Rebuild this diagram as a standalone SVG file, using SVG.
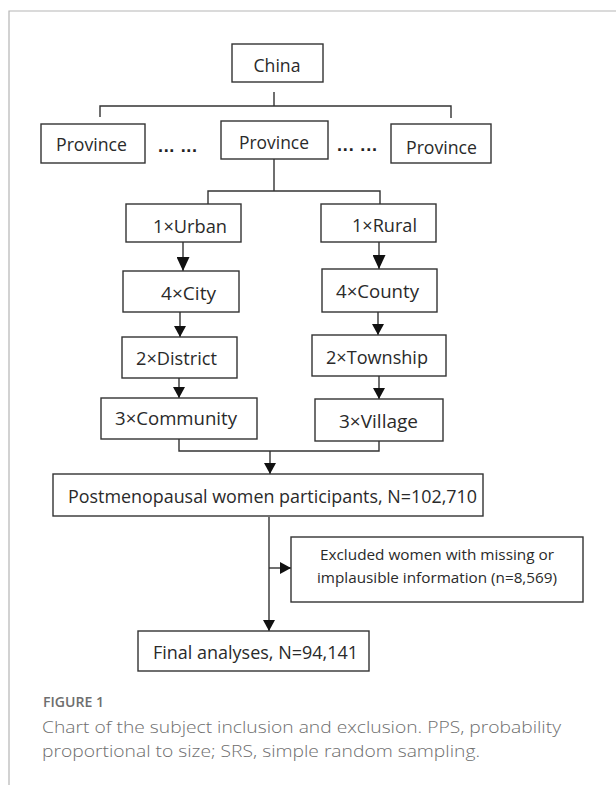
<svg xmlns="http://www.w3.org/2000/svg" width="616" height="787" viewBox="0 0 616 787">
  <style>
    .box { fill: #ffffff; stroke: #333333; stroke-width: 1.4; }
    .t { font-family: "Open Sans", "Noto Sans", sans-serif; font-size: 17.5px; fill: #2a2a2a; text-anchor: middle; }
    .ts { font-size: 14.5px; }
    .tl { font-size: 19px; }
    .dots { font-family: "Liberation Sans", sans-serif; font-size: 18px; font-weight: bold; fill: #222222; text-anchor: middle; }
    .ln { fill: none; stroke: #333333; stroke-width: 1.4; }
    .frame { fill: none; stroke: #b5b5b5; stroke-width: 1.2; }
    .cap { font-family: "Open Sans", "Noto Sans", sans-serif; fill: #6e6e6e; }
  </style>
  <defs>
    <marker id="arr" viewBox="0 0 11 12" refX="11" refY="6" markerWidth="11" markerHeight="12" markerUnits="userSpaceOnUse" orient="auto">
      <path d="M0,0 L11,6 L0,12 z" fill="#111111"/>
    </marker>
    <marker id="arrL" viewBox="0 0 14 13" refX="14" refY="6.5" markerWidth="14" markerHeight="13" markerUnits="userSpaceOnUse" orient="auto">
      <path d="M0,0 L14,6.5 L0,13 z" fill="#111111"/>
    </marker>
  </defs>
  <rect width="616" height="787" fill="#ffffff"/>
  <path class="frame" d="M616 11 H9 V785"/>

  <g id="connectors">
    <path class="ln" d="M274 92 V106 M100 117 V106 H451 V118"/>
    <path class="ln" d="M274 159 V191 M208 204 V191 H380 V204"/>
    <path class="ln" d="M183 242 V271" marker-end="url(#arrL)"/>
    <path class="ln" d="M180 312 V337" marker-end="url(#arr)"/>
    <path class="ln" d="M179 378 V398" marker-end="url(#arr)"/>
    <path class="ln" d="M379 242 V269" marker-end="url(#arrL)"/>
    <path class="ln" d="M378 312 V335" marker-end="url(#arr)"/>
    <path class="ln" d="M379 376 V399" marker-end="url(#arr)"/>
    <path class="ln" d="M179 439 V451 H379 V441"/>
    <path class="ln" d="M270 451 V474" marker-end="url(#arr)"/>
    <path class="ln" d="M269 517 V631" marker-end="url(#arr)"/>
    <path class="ln" d="M269 568 H291" marker-end="url(#arr)"/>
  </g>

  <g id="china">
    <rect class="box" x="232" y="44" width="91" height="38"/>
    <text class="t" x="277" y="72" textLength="47" lengthAdjust="spacingAndGlyphs">China</text>
  </g>
  <g id="province-left">
    <rect class="box" x="41" y="124" width="104" height="39"/>
    <text class="t" x="91.5" y="151" textLength="71" lengthAdjust="spacingAndGlyphs">Province</text>
  </g>
  <g id="dots-left">
    <text class="dots" x="177.5" y="152" textLength="39" lengthAdjust="spacing">... ...</text>
  </g>
  <g id="province-mid">
    <rect class="box" x="221" y="121" width="107" height="38"/>
    <text class="t" x="274" y="149" textLength="70" lengthAdjust="spacingAndGlyphs">Province</text>
  </g>
  <g id="dots-right">
    <text class="dots" x="357" y="151" textLength="40" lengthAdjust="spacing">... ...</text>
  </g>
  <g id="province-right">
    <rect class="box" x="391" y="124" width="100" height="39"/>
    <text class="t" x="441.5" y="154" textLength="71" lengthAdjust="spacingAndGlyphs">Province</text>
  </g>

  <g id="urban">
    <rect class="box" x="126" y="204" width="115" height="38"/>
    <text class="t" x="190" y="233" textLength="74" lengthAdjust="spacingAndGlyphs">1×Urban</text>
  </g>
  <g id="city">
    <rect class="box" x="123" y="271" width="116" height="41"/>
    <text class="t" x="188.5" y="300" textLength="55" lengthAdjust="spacingAndGlyphs">4×City</text>
  </g>
  <g id="district">
    <rect class="box" x="122" y="337" width="115" height="41"/>
    <text class="t" x="176.5" y="365" textLength="81" lengthAdjust="spacingAndGlyphs">2×District</text>
  </g>
  <g id="community">
    <rect class="box" x="101" y="398" width="156" height="41"/>
    <text class="t" x="176" y="425" textLength="122" lengthAdjust="spacingAndGlyphs">3×Community</text>
  </g>

  <g id="rural">
    <rect class="box" x="321" y="204" width="115" height="38"/>
    <text class="t" x="384.5" y="232" textLength="65" lengthAdjust="spacingAndGlyphs">1×Rural</text>
  </g>
  <g id="county">
    <rect class="box" x="322" y="269" width="115" height="43"/>
    <text class="t" x="377.5" y="298" textLength="83" lengthAdjust="spacingAndGlyphs">4×County</text>
  </g>
  <g id="township">
    <rect class="box" x="312" y="335" width="134" height="41"/>
    <text class="t" x="377" y="364" textLength="102" lengthAdjust="spacingAndGlyphs">2×Township</text>
  </g>
  <g id="village">
    <rect class="box" x="315" y="399" width="128" height="42"/>
    <text class="t" x="378.5" y="428" textLength="79" lengthAdjust="spacingAndGlyphs">3×Village</text>
  </g>

  <g id="participants">
    <rect class="box" x="53" y="474" width="430" height="42"/>
    <text class="t tl" x="272.5" y="503" textLength="409" lengthAdjust="spacingAndGlyphs">Postmenopausal women participants, N=102,710</text>
  </g>
  <g id="excluded">
    <rect class="box" x="291" y="537" width="292" height="65"/>
    <text class="t ts" x="437" y="560" textLength="234" lengthAdjust="spacingAndGlyphs">Excluded women with missing or</text>
    <text class="t ts" x="437" y="583" textLength="240" lengthAdjust="spacingAndGlyphs">implausible information (n=8,569)</text>
  </g>
  <g id="final">
    <rect class="box" x="138" y="631" width="231" height="40"/>
    <text class="t" x="255.5" y="659" textLength="205" lengthAdjust="spacingAndGlyphs">Final analyses, N=94,141</text>
  </g>

  <g id="caption">
    <text class="cap" x="43" y="707" font-size="15" font-weight="600" textLength="61" lengthAdjust="spacingAndGlyphs">FIGURE 1</text>
    <text class="cap" x="42" y="733" font-size="16.5" font-weight="300" textLength="519" lengthAdjust="spacingAndGlyphs">Chart of the subject inclusion and exclusion. PPS, probability</text>
    <text class="cap" x="42" y="757" font-size="16.5" font-weight="300" textLength="438" lengthAdjust="spacingAndGlyphs">proportional to size; SRS, simple random sampling.</text>
  </g>
</svg>
